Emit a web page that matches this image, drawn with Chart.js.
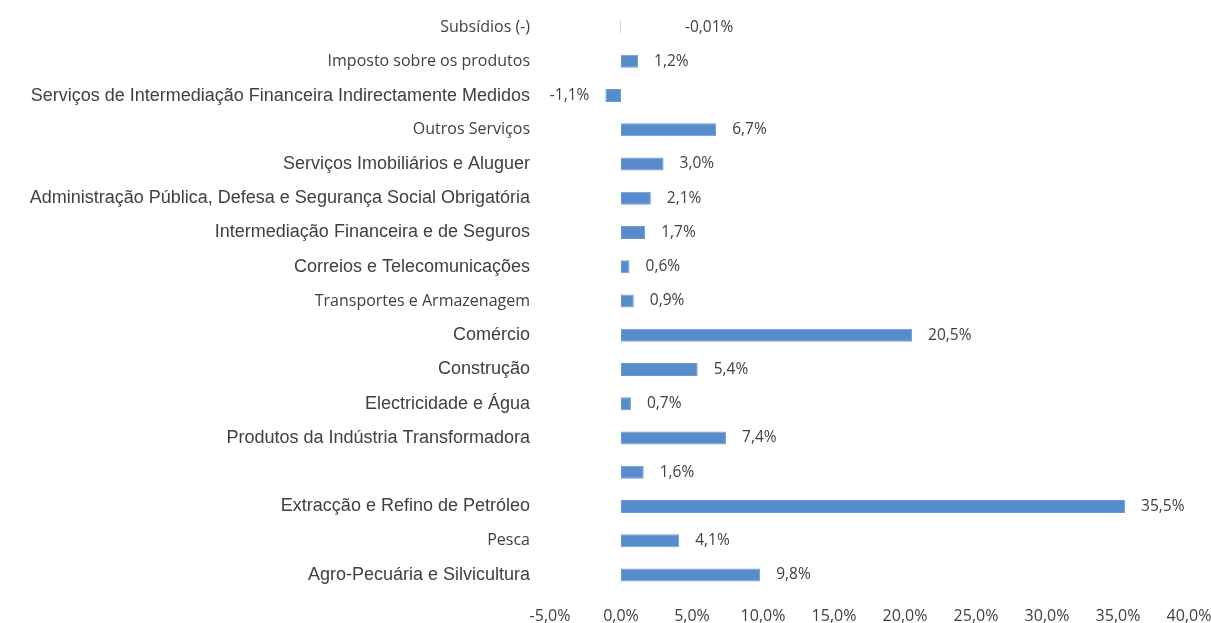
<!DOCTYPE html>
<html>
<head>
<meta charset="utf-8">
<script src="https://cdn.jsdelivr.net/npm/chart.js@4"></script>
<style>
  html, body { margin: 0; padding: 0; background: #fff; }
  #wrap { width: 1211px; height: 623px; }
</style>
</head>
<body>
<div id="wrap"><canvas id="barChart" width="1211" height="623"></canvas></div>
<script>
// categories top to bottom (one row has no label in the original)
const categories = [
  "Subsídios (-)",
  "Imposto sobre os produtos",
  "Serviços de Intermediação Financeira Indirectamente Medidos",
  "Outros Serviços",
  "Serviços Imobiliários e Aluguer",
  "Administração Pública, Defesa e Segurança Social Obrigatória",
  "Intermediação Financeira e de Seguros",
  "Correios e Telecomunicações",
  "Transportes e Armazenagem",
  "Comércio",
  "Construção",
  "Electricidade e Água",
  "Produtos da Indústria Transformadora",
  "",
  "Extracção e Refino de Petróleo",
  "Pesca",
  "Agro-Pecuária e Silvicultura"
]

const shares = [-0.01, 1.2, -1.1, 6.7, 3.0, 2.1, 1.7, 0.6, 0.9, 20.5, 5.4, 0.7, 7.4, 1.6, 35.5, 4.1, 9.8]

// labels that the source set in the smaller Calibri-like face
const smallLabels = ["Subsídios (-)", "Imposto sobre os produtos", "Outros Serviços", "Transportes e Armazenagem", "Pesca"]

const xTicks = [-5, 0, 5, 10, 15, 20, 25, 30, 35, 40]

const sansFont = "'Liberation Sans', Arial, sans-serif"
const calFont = "'Open Sans', sans-serif"
const textColor = "#404040"

function fmt(v) {
  let d = Math.abs(v) < 0.1 ? 2 : 1
  return v.toFixed(d).replace(".", ",") + "%"
}

// draw the value next to each bar
const valueLabels = {
  id: "valueLabels",
  afterDatasetsDraw(chart) {
    let ctx = chart.ctx
    let meta = chart.getDatasetMeta(0)
    let x0 = chart.scales.x.getPixelForValue(0)
    ctx.save()
    ctx.font = "15.5px " + calFont
    ctx.fillStyle = textColor
    ctx.textBaseline = "middle"
    meta.data.forEach((bar, i) => {
      let v = shares[i]
      if (Math.abs(v) < 0.1) {
        ctx.textAlign = "left"
        ctx.fillText(fmt(v), x0 + 64, bar.y)
      } else if (v < 0) {
        ctx.textAlign = "right"
        ctx.fillText(fmt(v), bar.x - 16, bar.y)
      } else {
        ctx.textAlign = "left"
        ctx.fillText(fmt(v), bar.x + 16, bar.y)
      }
    })
    ctx.restore()
  }
}

const data = {
  labels: categories,
  datasets: [{
    data: shares,
    backgroundColor: shares.map(v => Math.abs(v) < 0.1 ? "#c9d9ee" : "#588bcb"),
    borderColor: shares.map(v => Math.abs(v) < 0.1 ? "#c9d9ee" : "#6d9ad3"),
    borderWidth: 1,
    borderSkipped: false,
    minBarLength: 1,
    barPercentage: 0.38,
    categoryPercentage: 1
  }]
}

const config = {
  type: "bar",
  data: data,
  options: {
    indexAxis: "y",
    responsive: false,
    animation: false,
    layout: { padding: { top: 10, right: 22, bottom: 0, left: 0 } },
    plugins: {
      legend: { display: false },
      tooltip: { enabled: false }
    },
    scales: {
      x: {
        min: -5,
        max: 40,
        afterBuildTicks: scale => { scale.ticks = xTicks.map(v => ({ value: v })) },
        afterFit: scale => {
          scale.height = 31
          scale.paddingLeft = 0
          scale.paddingRight = 0
        },
        grid: { display: false, drawTicks: false },
        border: { display: false },
        ticks: {
          padding: 15,
          maxRotation: 0,
          color: textColor,
          font: { family: calFont, size: 16 },
          callback: v => v.toFixed(1).replace(".", ",") + "%"
        }
      },
      y: {
        afterFit: scale => {
          scale.width = 550
          scale.paddingTop = 0
          scale.paddingBottom = 0
        },
        grid: { display: false, drawTicks: false },
        border: { display: false },
        ticks: {
          padding: 20,
          color: textColor,
          autoSkip: false,
          font: ctx => smallLabels.includes(categories[ctx.index])
            ? { family: calFont, size: 16 }
            : { family: sansFont, size: 18 }
        }
      }
    }
  },
  plugins: [valueLabels]
}

new Chart(document.querySelector("#barChart"), config)
</script>
</body>
</html>
